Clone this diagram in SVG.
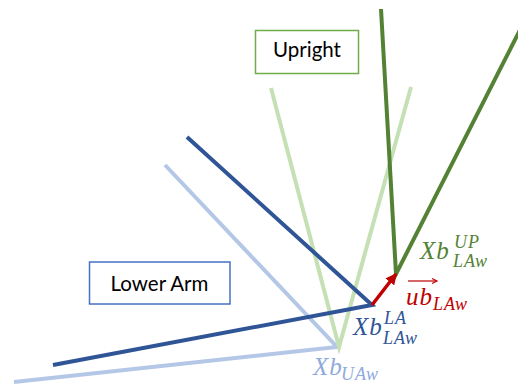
<svg xmlns="http://www.w3.org/2000/svg" width="518" height="386" viewBox="0 0 518 386">
<style>
.seg{fill:none;stroke-width:4;stroke-linecap:butt}
.lb{stroke:#B4C7E7}
.db{stroke:#2F5597}
.lg{stroke:#C5E0B4}
.dg{stroke:#548235}
.box{fill:#fff;stroke-width:1.5}
.lbl{font-family:Lato,"Liberation Sans",sans-serif;font-size:20.5px;fill:#000;text-anchor:middle}
.m{font-family:"Liberation Serif",serif;font-style:italic}
.big{font-size:25px;letter-spacing:1px}
.sc{font-size:18px;letter-spacing:1px}
</style>
<defs>
<marker id="ah" viewBox="0 0 10 10" refX="9" refY="5" markerWidth="3.2" markerHeight="3.2" orient="auto" markerUnits="strokeWidth">
<path d="M0,0 L10,5 L0,10 Z" fill="#C00000"/>
</marker>
</defs>
<g id="connectors">
<polyline class="seg lb" points="165,165 337,347 14,382"/>
<polyline class="seg lg" points="271,88 339,347 411,87"/>
<polyline class="seg db" points="187,137 372,305 53,365"/>
<polyline class="seg dg" points="381,9 396,274 524,22"/>
<line x1="372" y1="305" x2="396" y2="274" stroke="#C00000" stroke-width="3.5" marker-end="url(#ah)"/>
</g>
<g id="upright">
<rect class="box" x="255.5" y="30.5" width="103" height="43" stroke="#70AD47"/>
<text class="lbl" x="307" y="57">Upright</text>
</g>
<g id="lower-arm">
<rect class="box" x="89.5" y="262" width="140.5" height="42" stroke="#4472C4"/>
<text class="lbl" x="159.5" y="291">Lower Arm</text>
</g>
<g id="label-up" class="m" fill="#548235">
<text class="big" x="420" y="259">Xb</text>
<text class="sc" x="454" y="248">UP</text>
<text class="sc" x="453" y="267">LAw</text>
</g>
<g id="label-ub" class="m" fill="#C00000">
<line x1="408" y1="281" x2="436" y2="281" stroke="#C00000" stroke-width="1.2"/>
<path d="M432,278.5 L437,281 L432,283.5" fill="none" stroke="#C00000" stroke-width="1.2"/>
<text class="big" x="406" y="305">ub</text>
<text class="sc" x="433" y="310">LAw</text>
</g>
<g id="label-la" class="m" fill="#2F5597">
<text class="big" x="353" y="335">Xb</text>
<text class="sc" x="384" y="324">LA</text>
<text class="sc" x="383" y="344">LAw</text>
</g>
<g id="label-ua" class="m" fill="#8FAADC">
<text class="big" x="313" y="375">Xb</text>
<text class="sc" x="341" y="380">UAw</text>
</g>
</svg>
